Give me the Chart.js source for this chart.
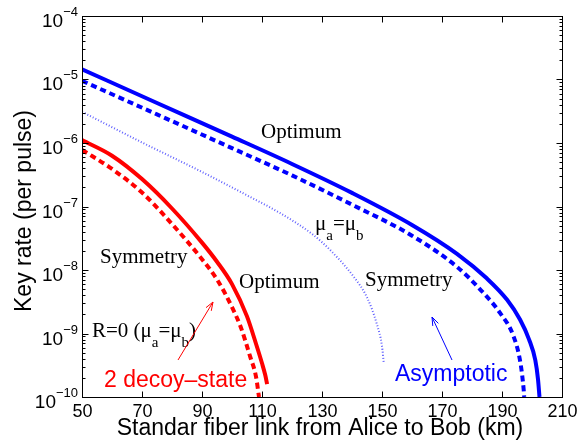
<!DOCTYPE html>
<html><head><meta charset="utf-8">
<script src="https://cdn.jsdelivr.net/npm/chart.js@4.4.0/dist/chart.umd.min.js"></script>
<style>html,body{margin:0;padding:0;background:#fff;}#wrap{width:578px;height:444px;}</style>
</head><body><div id="wrap"><canvas id="c" width="578" height="444"></canvas></div>
<script>
// ---- data ----
const xTickValues = [50, 70, 90, 110, 130, 150, 170, 190, 210];
const yTickExponents = [-4, -5, -6, -7, -8, -9, -10];

// Asymptotic, optimum (blue solid)
const asymOptKm   = [50, 75, 100, 120, 140, 160, 175, 185, 191.7, 196, 199, 201.1, 202, 202.5];
const asymOptRate = [1.45e-5, 4.27e-6, 1.26e-6, 4.68e-7, 1.64e-7, 5.13e-8, 1.8e-8, 7.33e-9, 3.39e-9, 1.66e-9, 8.1e-10, 3.8e-10, 1.9e-10, 1e-10];
// Asymptotic, symmetry (blue dashed)
const asymSymKm   = [50, 75, 100, 120, 140, 160, 175, 183, 189.4, 193.9, 196.1, 197.2, 197.4];
const asymSymRate = [9.55e-6, 2.82e-6, 8.3e-7, 3.09e-7, 1.07e-7, 3.47e-8, 1.12e-8, 4.79e-9, 2.09e-9, 8.9e-10, 3.55e-10, 1.35e-10, 1e-10];
// Asymptotic, mu_a = mu_b (blue dotted)
const asymEqualKm   = [50, 70, 90, 105, 116, 127, 133, 140.5, 145, 148.3, 150, 150.6];
const asymEqualRate = [3.1e-6, 1.02e-6, 3.5e-7, 1.5e-7, 7.9e-8, 3.6e-8, 2.0e-8, 7.9e-9, 3.7e-9, 1.4e-9, 6.3e-10, 3.4e-10];
// 2 decoy-state, optimum (red solid)
const decoyOptKm   = [50, 60, 70, 80, 90, 95, 100, 105, 108, 110, 111.1, 111.7];
const decoyOptRate = [1.11e-6, 6.3e-7, 2.7e-7, 9.3e-8, 2.7e-8, 1.35e-8, 6e-9, 1.86e-9, 6.9e-10, 3.4e-10, 2.2e-10, 1.6e-10];
// 2 decoy-state, symmetry (red dashed)
const decoySymKm   = [50, 60, 70, 80, 90, 95, 100, 103, 106, 108, 109];
const decoySymRate = [7.8e-7, 3.9e-7, 1.66e-7, 5.3e-8, 1.48e-8, 7.1e-9, 2.6e-9, 1.23e-9, 4.4e-10, 2.1e-10, 1e-10];

const SANS = '"Liberation Sans", Arial, sans-serif';
const SERIF = '"Liberation Serif", "Times New Roman", serif';

function pts(xs, ys) { return xs.map((x, i) => ({ x: x, y: ys[i] })); }

function ds(label, xs, ys, color, width, dash) {
  return {
    label: label, data: pts(xs, ys), borderColor: color, backgroundColor: color,
    borderWidth: width, borderDash: dash || [], borderCapStyle: 'butt',
    pointRadius: 0, fill: false, cubicInterpolationMode: 'monotone'
  };
}

function arrow(ctx, x1, y1, x2, y2, color) {
  ctx.strokeStyle = color; ctx.lineWidth = 1;
  ctx.beginPath(); ctx.moveTo(x1, y1); ctx.lineTo(x2, y2); ctx.stroke();
  const ang = Math.atan2(y2 - y1, x2 - x1), L = 9, w = 0.35;
  ctx.beginPath();
  ctx.moveTo(x2 - L * Math.cos(ang - w), y2 - L * Math.sin(ang - w));
  ctx.lineTo(x2, y2);
  ctx.lineTo(x2 - L * Math.cos(ang + w), y2 - L * Math.sin(ang + w));
  ctx.stroke();
}

function runs(ctx, x, y, parts, family, color) {
  ctx.fillStyle = color; ctx.textAlign = 'left'; ctx.textBaseline = 'alphabetic';
  let cx = x;
  parts.forEach(p => {
    ctx.font = p[1] + 'px ' + family;
    ctx.fillText(p[0], cx, y + (p[2] || 0));
    cx += ctx.measureText(p[0]).width;
  });
}

const decorations = {
  id: 'decorations',
  afterDraw(chart) {
    const ctx = chart.ctx, xs = chart.scales.x, ys = chart.scales.y, a = chart.chartArea;
    ctx.save();
    ctx.strokeStyle = '#000'; ctx.lineWidth = 1;
    const L = Math.round(a.left) + 0.5, R = Math.round(a.right) + 0.5, T = Math.round(a.top) + 0.5, B = Math.round(a.bottom) + 0.5;
    ctx.strokeRect(L, T, R - L, B - T);
    const seg = (x1, y1, x2, y2) => { ctx.beginPath(); ctx.moveTo(x1, y1); ctx.lineTo(x2, y2); ctx.stroke(); };
    ctx.fillStyle = '#000'; ctx.font = '18px ' + SANS; ctx.textAlign = 'center'; ctx.textBaseline = 'alphabetic';
    xTickValues.forEach(v => {
      const px = Math.round(xs.getPixelForValue(v)) + 0.5;
      seg(px, B, px, B - 6); seg(px, T, px, T + 6);
      ctx.fillText(String(v), px, 417);
    });
    yTickExponents.forEach(e => {
      const py = Math.round(ys.getPixelForValue(Math.pow(10, e))) + 0.5;
      seg(L, py, L + 6, py); seg(R, py, R - 6, py);
      if (e > -10) {
        for (let k = 2; k <= 9; k++) {
          const q = Math.round(ys.getPixelForValue(k * Math.pow(10, e - 1))) + 0.5;
          seg(L, q, L + 3, q); seg(R, q, R - 3, q);
        }
      }
      const expTxt = '\u2212' + String(-e);
      ctx.textAlign = 'left';
      ctx.font = '13px ' + SANS; const ew = ctx.measureText(expTxt).width;
      ctx.font = '19px ' + SANS; const bw = ctx.measureText('10').width;
      const x0 = 78 - ew - bw;
      ctx.fillText('10', x0, py + 10);
      ctx.font = '13px ' + SANS; ctx.fillText(expTxt, x0 + bw, py - 1);
    });
    ctx.font = '23px ' + SANS; ctx.textAlign = 'center'; ctx.fillStyle = '#000';
    ctx.fillText('Standar fiber link from Alice to Bob (km)', 320, 435);
    ctx.save(); ctx.translate(31, 211); ctx.rotate(-Math.PI / 2);
    ctx.fillText('Key rate (per pulse)', 0, 0); ctx.restore();
    ctx.textAlign = 'left';
    runs(ctx, 261, 138, [['Optimum', 21]], SERIF, '#000');
    runs(ctx, 315, 230, [['\u03bc', 21], ['a', 15, 10], ['=\u03bc', 21], ['b', 15, 10]], SERIF, '#000');
    runs(ctx, 365, 286, [['Symmetry', 21]], SERIF, '#000');
    runs(ctx, 100, 263, [['Symmetry', 21]], SERIF, '#000');
    runs(ctx, 239, 288, [['Optimum', 21]], SERIF, '#000');
    runs(ctx, 92, 337, [['R=0 (\u03bc', 21], ['a', 15, 10], ['=\u03bc', 21], ['b', 15, 10], [')', 21]], SERIF, '#000');
    runs(ctx, 104, 387, [['2 decoy\u2013state', 23]], SANS, '#ff0000');
    runs(ctx, 395, 381, [['Asymptotic', 23]], SANS, '#0000ff');
    arrow(ctx, 178, 360, 213, 302, '#ff0000');
    arrow(ctx, 452, 360, 432, 317, '#0000ff');
    ctx.restore();
  }
};

new Chart(document.getElementById('c'), {
  type: 'line',
  data: {
    datasets: [
      ds('Asymptotic optimum', asymOptKm, asymOptRate, '#0000ff', 4),
      ds('Asymptotic symmetry', asymSymKm, asymSymRate, '#0000ff', 4, [6, 4]),
      ds('Asymptotic mu_a=mu_b', asymEqualKm, asymEqualRate, '#6262ff', 2, [1, 2]),
      ds('2 decoy-state optimum', decoyOptKm, decoyOptRate, '#ff0000', 4),
      ds('2 decoy-state symmetry', decoySymKm, decoySymRate, '#ff0000', 4, [6, 4])
    ]
  },
  options: {
    responsive: false, animation: false, devicePixelRatio: 1,
    layout: { autoPadding: false, padding: { top: 16, right: 16, left: 0, bottom: 0 } },
    plugins: { legend: { display: false }, tooltip: { enabled: false } },
    scales: {
      x: {
        type: 'linear', min: 50, max: 210,
        ticks: { display: false }, grid: { display: false }, border: { display: false },
        afterFit: s => { s.height = 47; }
      },
      y: {
        type: 'logarithmic', min: 1e-10, max: 1e-4,
        ticks: { display: false }, grid: { display: false }, border: { display: false },
        afterFit: s => { s.width = 82; }
      }
    }
  },
  plugins: [decorations]
});
</script></body></html>
